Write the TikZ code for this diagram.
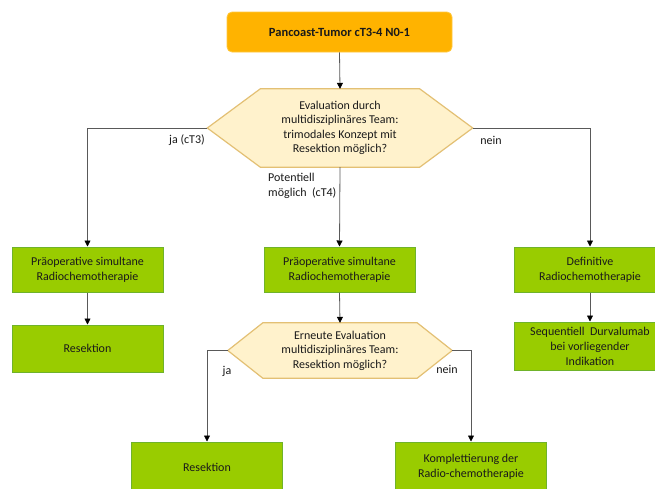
\documentclass[tikz,border=0pt]{standalone}
\usepackage{fontspec}
\setmainfont{Carlito}
\usetikzlibrary{arrows.meta,calc}
\pgfdeclarelayer{background}
\pgfsetlayers{background,main}
\definecolor{boxgreen}{HTML}{99CC00}
\definecolor{boxgreenline}{HTML}{6FB32A}
\definecolor{topfill}{HTML}{FFB300}
\definecolor{topline}{HTML}{FFC940}
\definecolor{hexfill}{HTML}{FFF2CC}
\definecolor{hexline}{HTML}{E3C074}
\definecolor{conn}{HTML}{595959}
\definecolor{txt}{HTML}{1A1A1A}
\tikzset{
  gbox/.style={draw=boxgreenline, line width=1pt, fill=boxgreen, minimum width=151pt, align=center, inner sep=0pt, text=txt, font=\fontsize{12}{15}\selectfont},
  topbox/.style={draw=topline, line width=0.8pt, fill=topfill, rounded corners=5pt, minimum width=225pt, minimum height=40pt, inner sep=0pt, font=\bfseries\fontsize{12.5}{15}\selectfont, text=txt},
  hexnode/.style={inner sep=0pt, align=center, text=txt, font=\fontsize{12}{14.5}\selectfont},
  hexshape/.style={draw=hexline, line width=1.2pt, fill=hexfill, line join=miter},
  conline/.style={draw=conn, line width=0.8pt},
  arr/.style={conline, -{Triangle[length=6pt,width=6pt,color=black]}},
  lbl/.style={inner sep=0pt, text=txt, font=\fontsize{12}{15}\selectfont}
}
\begin{document}
\begin{tikzpicture}[x=1pt,y=-1pt]
\useasboundingbox (0,0) rectangle (655,488);
\clip (0,0) rectangle (655,488);

% top
\node[topbox] (top) at (339.5,32) {Pancoast-Tumor cT3-4 N0-1};

% hexagon 1
\node[hexnode, minimum width=265pt, minimum height=78pt] (h1) at (340,128)
  {Evaluation durch\\multidisziplinäres Team:\\trimodales Konzept mit\\Resektion möglich?};

% row 2
\node[gbox, minimum height=45pt] (l1) at (87.5,269.5) {Präoperative simultane\\Radiochemotherapie};
\node[gbox, minimum height=45pt] (m1) at (339.5,269.5) {Präoperative simultane\\Radiochemotherapie};
\node[gbox, minimum height=45pt] (r1) at (590,269.5) {Definitive\\Radiochemotherapie};

% row 3
\node[gbox, minimum height=47pt] (l2) at (87.5,348.5) {Resektion};
\node[gbox, minimum height=48pt] (r2) at (590,346) {Sequentiell\ \ Durvalumab\\bei vorliegender\\Indikation};

% hexagon 2
\node[hexnode, minimum width=224pt, minimum height=55pt] (h2) at (340,350.5)
  {Erneute Evaluation\\multidisziplinäres Team:\\Resektion möglich?};

\begin{pgfonlayer}{background}
\fill[white] (0,0) rectangle (655,488);
\draw[hexshape] (h1.west) -- ([xshift=53pt]h1.north west) -- ([xshift=-53pt]h1.north east)
  -- (h1.east) -- ([xshift=-53pt]h1.south east) -- ([xshift=53pt]h1.south west) -- cycle;
\draw[hexshape] (h2.west) -- ([xshift=35pt]h2.north west) -- ([xshift=-35pt]h2.north east)
  -- (h2.east) -- ([xshift=-35pt]h2.south east) -- ([xshift=35pt]h2.south west) -- cycle;
\end{pgfonlayer}

% row 4
\node[gbox, minimum height=50pt] (b1) at (207,467) {Resektion};
\node[gbox, minimum height=50pt] (b2) at (471,467) {Komplettierung der\\Radio-chemotherapie};

% connectors
\draw[arr] (top.south) -- (h1.north);
\draw[arr] (h1.west) -| (l1.north);
\draw[arr] (h1.south) -- (m1.north);
\draw[arr] (h1.east) -| (r1.north);
\draw[arr] (l1.south) -- (l2.north);
\draw[arr] (m1.south) -- (h2.north);
\draw[arr] (r1.south) -- (r2.north);
\draw[arr] (h2.west) -| (b1.north);
\draw[arr] (h2.east) -| (b2.north);

% labels
\node[lbl] (la) at (187,140) {ja (cT3)};
\node[lbl] (lb) at (491,140) {nein};
\node[lbl, anchor=west, align=left] (lc) at (268,185.5) {Potentiell\\möglich\ \ (cT4)};
\node[lbl] (ld) at (227,371) {ja};
\node[lbl] (le) at (447,369) {nein};
\end{tikzpicture}
\end{document}
